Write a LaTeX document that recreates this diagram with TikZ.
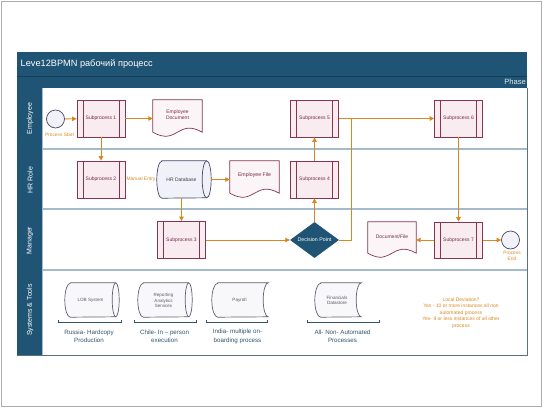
\documentclass[tikz,border=0pt]{standalone}
\usepackage{fontspec}
\setmainfont{Liberation Sans}
\usetikzlibrary{arrows.meta,calc,shapes.geometric}
\definecolor{hdr}{RGB}{31,84,116}
\definecolor{hdrdark}{RGB}{20,60,86}
\definecolor{lanesep}{RGB}{165,186,203}
\definecolor{frameblue}{RGB}{85,112,135}
\definecolor{maroon}{RGB}{135,52,80}
\definecolor{subtext}{RGB}{120,40,70}
\definecolor{subfill}{RGB}{248,236,241}
\definecolor{docfill}{RGB}{252,245,248}
\definecolor{orng}{RGB}{216,136,32}
\definecolor{dbstroke}{RGB}{70,70,100}
\definecolor{dbfill}{RGB}{241,241,249}
\definecolor{dbtext}{RGB}{60,60,85}
\definecolor{sysstroke}{RGB}{95,95,110}
\definecolor{sysfill}{RGB}{248,248,250}
\definecolor{syststext}{RGB}{90,90,100}
\definecolor{systext}{RGB}{50,82,108}
\definecolor{outerframe}{RGB}{172,172,172}
\newcommand\fs[2]{\fontsize{#1}{#2}\selectfont}
% cylinder: node, style, left rx, right rx, ry
\newcommand\cylshape[5]{%
  \draw[#2] ($(#1.north west)+(#3,0)$) -- ($(#1.north east)+(-#4,0)$)
    arc[start angle=90,end angle=-90,x radius=#4pt,y radius=#5pt]
    -- ($(#1.south west)+(#3,0)$)
    arc[start angle=270,end angle=90,x radius=#3pt,y radius=#5pt] -- cycle;
  \draw[#2,fill=none] ($(#1.north east)+(-#4,0)$)
    arc[start angle=90,end angle=270,x radius=#4pt,y radius=#5pt];}
% stored data: node, style, left rx, right rx, ry
\newcommand\sdshape[5]{%
  \draw[#2] ($(#1.north west)+(#3,0)$) -- (#1.north east)
    arc[start angle=90,end angle=270,x radius=#4pt,y radius=#5pt]
    -- ($(#1.south west)+(#3,0)$)
    arc[start angle=270,end angle=90,x radius=#3pt,y radius=#5pt] -- cycle;}
% document: node, style
\newcommand\docshape[2]{%
  \draw[#2] (#1.north west) -- (#1.north east) -- ($(#1.south east)+(0,-5)$)
    .. controls ($(#1.south)+(0,-19)$) and ($(#1.south)+(0,9)$) ..
    ($(#1.south west)+(0,-5)$) -- cycle;}
\tikzset{
  flow/.style={draw=orng, line width=0.8pt, -{Triangle[length=4.5pt,width=4.5pt]}},
  flowplain/.style={draw=orng, line width=0.8pt},
  subproc/.style={draw=maroon, fill=subfill, line width=0.7pt, minimum width=48pt,
    minimum height=37pt, inner sep=0pt, text=subtext, font=\fs{5}{6},
    path picture={\draw[maroon, line width=0.7pt]
      ([xshift=6pt]path picture bounding box.north west) -- ([xshift=6pt]path picture bounding box.south west)
      ([xshift=-6pt]path picture bounding box.north east) -- ([xshift=-6pt]path picture bounding box.south east);}},
  docbox/.style={minimum width=49pt, minimum height=37pt, inner sep=0pt},
  docline/.style={draw=maroon, fill=docfill, line width=0.7pt},
  doctext/.style={text=subtext, font=\fs{5}{6.5}, align=center, inner sep=0pt},
  dbbox/.style={minimum width=54pt, minimum height=37pt, inner sep=0pt},
  dbline/.style={draw=dbstroke, fill=dbfill, line width=0.7pt},
  dbtextst/.style={text=dbtext, font=\fs{5}{6}, inner sep=0pt},
  sysbox/.style={minimum height=34pt, inner sep=0pt},
  sysline/.style={draw=sysstroke, fill=sysfill, line width=0.7pt},
  systextst/.style={text=syststext, font=\fs{4.6}{5.5}, align=center, inner sep=0pt},
  syslabel/.style={text=systext, font=\fs{6.2}{8.3}, align=center, inner sep=0pt},
  bracketst/.style={draw=systext, line width=0.7pt},
  orangelabel/.style={text=orng, font=\fs{4.8}{6}, align=center, inner sep=0pt},
  eventst/.style={circle, draw=dbstroke, fill=dbfill, line width=0.7pt, minimum size=18pt, inner sep=0pt},
  decisionst/.style={diamond, aspect=2, fill=hdr, text=white, font=\fs{5.3}{6},
    minimum width=49pt, minimum height=36pt, inner sep=0pt},
  lanelabel/.style={rotate=90, text=white, font=\fs{7}{9}}
}
\begin{document}
\begin{tikzpicture}[x=1pt,y=-1pt]
\useasboundingbox (0,0) rectangle (544,408);
\draw[outerframe, line width=1pt] (1.5,1.5) rectangle (541.5,406.5);
% pool frame
\fill[hdr] (17,52) rectangle (527,88);
\draw[hdrdark, line width=0.8pt] (17,76) -- (527,76);
\fill[hdr] (17,88) rectangle (42,355);
\draw[lanesep, line width=1.2pt] (42,149) -- (527,149) (42,209) -- (527,209) (42,270) -- (527,270);
\draw[lanesep, line width=0.8pt] (42.4,88) -- (42.4,355);
\draw[frameblue, line width=1pt] (527,88) -- (527,355) -- (17,355);
\node[anchor=west, text=white, font=\fs{9.2}{11}, inner sep=0pt] (title) at (20.5,64.5) {Leve12BPMN рабочий процесс};
\node[anchor=east, text=white!88!hdr, font=\fs{7.6}{9}, inner sep=0pt] (phase) at (526,82) {Phase};
% lane labels
\node[lanelabel] (lemp) at (30,118.5) {Employee};
\node[lanelabel] (lhr) at (30,180) {HR Role};
\node[lanelabel] (lman) at (30,240.5) {Manager};
\node[lanelabel] (lsys) at (30,310) {Systems \& Tools};
% employee lane
\node[eventst] (start) at (55.5,119) {};
\node[orangelabel] (lstart) at (59.5,134.5) {Process Start};
\node[subproc] (sub1) at (101,118.5) {Subprocess 1};
\node[docbox] (empdoc) at (177.5,118.5) {};
\docshape{empdoc}{docline}
\node[doctext] (empdoc-t) at (177.5,114.5) {Employee\\Document};
\node[subproc] (sub5) at (314.5,118.5) {Subprocess 5};
\node[subproc] (sub6) at (458.5,118.5) {Subprocess 6};
% HR lane
\node[subproc] (sub2) at (101,179.5) {Subprocess 2};
\node[dbbox] (hrdb) at (184,179.5) {};
\cylshape{hrdb}{dbline}{5}{4.5}{18.5}
\node[orangelabel, font=\fs{4.9}{6}] (manual) at (141,179.5) {Manual Entry};
\node[dbtextst] (hrdb-t) at (181.5,179.5) {HR Database};
\node[docbox] (empfile) at (254.5,179.5) {};
\docshape{empfile}{docline}
\node[doctext, font=\fs{5.2}{6.5}] (empfile-t) at (254.5,175.5) {Employee File};
\node[subproc] (sub4) at (314.5,179.5) {Subprocess 4};
% Manager lane
\node[subproc] (sub3) at (181.5,240) {Subprocess 3};
\node[decisionst] (dec) at (314.5,240) {Decision Point};
\node[docbox, minimum width=48pt, minimum height=36pt] (docfile) at (392,240) {};
\docshape{docfile}{docline}
\node[doctext] (docfile-t) at (392,237) {Document/File};
\node[subproc, minimum height=36pt] (sub7) at (458.5,240) {Subprocess 7};
\node[eventst] (end) at (510.5,240) {};
\node[orangelabel, font=\fs{4.8}{6.2}] (lend) at (512,256) {Process\\End};
% connectors
\coordinate (j) at (351,118.5);
\draw[flow] (start) -- (sub1);
\draw[flow] (sub1) -- (empdoc);
\draw[flow] (sub1) -- (sub2);
\draw[flow] (hrdb.east) -- (empfile.west);
\draw[flow] (sub3.north |- hrdb.south) -- (sub3.north);
\draw[flow] (sub3) -- (dec);
\draw[flow] (dec) -- (sub4);
\draw[flow] (sub4) -- (sub5);
\draw[flow] (sub5) -- (sub6);
\draw[flowplain] (dec.east) -| (j);
\draw[flow] (sub6) -- (sub7);
\draw[flow] (sub7) -- (docfile.east);
\draw[flow] (sub7) -- (end);
% systems lane
\node[sysbox, minimum width=54pt] (lob) at (92,300) {};
\cylshape{lob}{sysline}{5.5}{3.5}{17}
\node[systextst] (lob-t) at (90.5,300) {LOB System};
\node[sysbox, minimum width=54pt] (rep) at (165,300) {};
\cylshape{rep}{sysline}{5.5}{3.5}{17}
\node[systextst, font=\fs{4.5}{5.5}] (rep-t) at (163.5,300.5) {Reporting\\Analytics\\Services};
\node[sysbox, minimum width=56pt] (pay) at (240,300) {};
\sdshape{pay}{sysline}{6}{5}{17}
\node[systextst] (pay-t) at (239.5,300.5) {Payroll};
\node[sysbox, minimum width=46pt] (fin) at (338,300) {};
\sdshape{fin}{sysline}{6}{5}{17}
\node[systextst] (fin-t) at (337,300.5) {Financials\\Datastore};
\draw[bracketst] (58.5,319.5) -- (58.5,322) -- (121.5,322) -- (121.5,319.5);
\draw[bracketst] (134.5,319.5) -- (134.5,322) -- (196.5,322) -- (196.5,319.5);
\draw[bracketst] (206.5,319.5) -- (206.5,322) -- (267.5,322) -- (267.5,319.5);
\draw[bracketst] (307.5,319.5) -- (307.5,322) -- (379,322) -- (379,319.5);
\node[syslabel] (russia) at (89,336.5) {Russia- Hardcopy\\Production};
\node[syslabel] (chile) at (164.5,336.5) {Chile- In – person\\execution};
\node[syslabel] (india) at (237.5,336.5) {India- multiple on-\\boarding process};
\node[syslabel] (allnon) at (342.5,336.5) {All- Non- Automated\\Processes};
\node[orangelabel, font=\fs{5}{6.5}] (note) at (461,313) {Local Deviation?\\Yes - 10 or more instances all non\\automated process\\Yes- 9 or less instances of all other\\process};
\end{tikzpicture}
\end{document}
